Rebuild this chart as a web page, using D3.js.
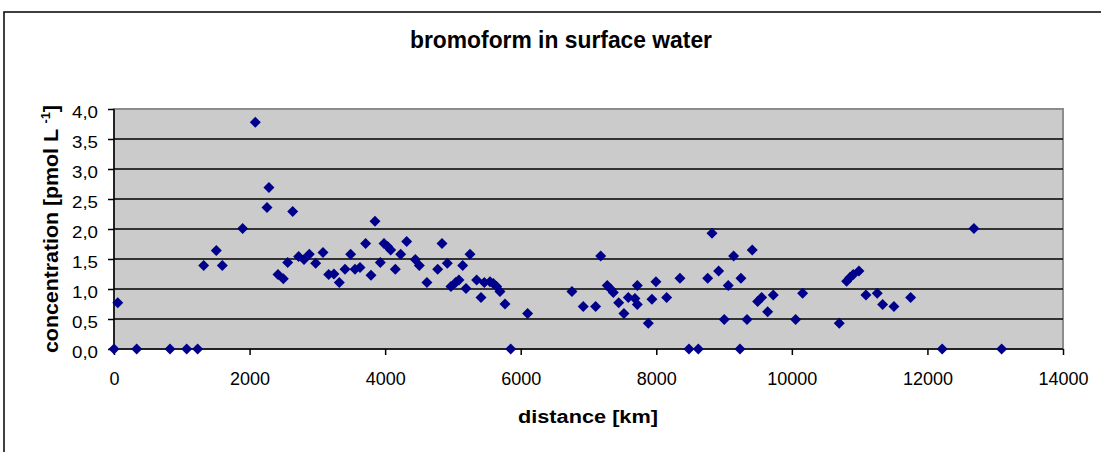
<!DOCTYPE html>
<html><head><meta charset="utf-8">
<script src="https://cdn.jsdelivr.net/npm/d3@7"></script>
<style>body{margin:0;background:#fff}svg{display:block}</style>
</head><body><svg id="c" width="1101" height="452"></svg>
<script>
const distance = [0,55,335,826,1072,1234,1323,1509,1598,1898,2085,2286,2257,2636,2419,2498,2562,2724,2803,2881,2975,3083,3167,3245,3324,3408,3491,3555,3629,3712,3791,3850,3929,3983,4037,4082,4150,4229,4318,4445,4504,4617,4775,4839,4917,4971,5040,5089,5144,5193,5252,5350,5414,5463,5547,5596,5645,5694,5768,5852,6102,6756,6923,7105,7180,7277,7326,7366,7445,7523,7587,7685,7720,7720,7882,7936,7995,8153,8349,8482,8620,8758,8822,8920,9062,9003,9141,9249,9234,9338,9416,9495,9554,9643,9726,10056,10159,10699,10808,10857,10906,10990,11093,11260,11339,11506,11752,12218,12686,13095];
const concentration = [0,0.77,0,0,0,0,1.39,1.64,1.39,2.01,3.78,2.69,2.36,2.29,1.24,1.17,1.44,1.54,1.49,1.58,1.43,1.61,1.24,1.25,1.11,1.33,1.58,1.33,1.36,1.76,1.23,2.13,1.44,1.76,1.71,1.65,1.33,1.58,1.79,1.49,1.39,1.11,1.33,1.76,1.43,1.04,1.11,1.15,1.39,1.01,1.58,1.15,0.86,1.11,1.12,1.09,1.04,0.96,0.75,0,0.59,0.96,0.71,0.71,1.55,1.06,1.00,0.94,0.77,0.59,0.86,0.84,1.06,0.74,0.43,0.83,1.12,0.86,1.18,0,0,1.18,1.93,1.30,1.06,0.49,1.55,1.18,0,0.49,1.65,0.79,0.86,0.62,0.90,0.49,0.93,0.43,1.13,1.19,1.24,1.30,0.90,0.93,0.74,0.71,0.86,0,2.01,0];
const xTicks = [0,2000,4000,6000,8000,10000,12000,14000];
const yTicks = [0,0.5,1.0,1.5,2.0,2.5,3.0,3.5,4.0];
const title = "bromoform in surface water";
const xTitle = "distance [km]";

const FONT = "Liberation Sans, Arial, sans-serif";
const svg = d3.select("#c");
const L=114, R=1063, T=109, B=349;
const x = d3.scaleLinear().domain([0,14000]).range([L,R]);
const y = d3.scaleLinear().domain([0,4]).range([B,T]);
const fmt = v => d3.format(".1f")(v).replace(".", ",");

// outer frame
svg.append("rect").attr("x",4).attr("y",12).attr("width",1200).attr("height",600)
  .attr("fill","none").attr("stroke","#000").attr("stroke-width",1.5);

// plot area
svg.append("rect").attr("x",L).attr("y",T).attr("width",R-L).attr("height",B-T)
  .attr("fill","#cbcbcb").attr("stroke","#8c8c8c").attr("stroke-width",2);

// gridlines
svg.append("g").selectAll("line").data(yTicks.filter(v=>v>0 && v<4)).join("line")
  .attr("x1",L).attr("x2",R).attr("y1",d=>y(d)).attr("y2",d=>y(d))
  .attr("stroke","#000").attr("stroke-width",1.5);

// y axis
const ya = svg.append("g").attr("transform",`translate(${L},0)`)
  .call(d3.axisLeft(y).tickValues(yTicks).tickFormat(fmt).tickSize(6).tickPadding(10));
ya.selectAll("path,line").attr("stroke","#000").attr("stroke-width",1.5);
ya.select(".domain").attr("d",`M0,${T}V${B}`);
ya.selectAll("text").attr("font-family",FONT).attr("font-size",16).attr("fill","#000")
  .attr("dy","0.52em").attr("textLength",26).attr("lengthAdjust","spacingAndGlyphs");

// x axis
const xa = svg.append("g").attr("transform",`translate(0,${B})`)
  .call(d3.axisBottom(x).tickValues(xTicks).tickFormat(d3.format("d")).tickSize(6).tickPadding(17));
xa.selectAll("path,line").attr("stroke","#000").attr("stroke-width",1.5);
xa.select(".domain").attr("d",`M${L},0H${R}`);
xa.selectAll("text").attr("font-family",FONT).attr("font-size",18).attr("fill","#000");

// points
const diamond = "M0,-5.5L5.5,0L0,5.5L-5.5,0Z";
svg.append("g").selectAll("path").data(distance.map((d,i)=>[d,concentration[i]])).join("path")
  .attr("d",diamond).attr("transform",d=>`translate(${x(d[0])},${y(d[1])})`)
  .attr("fill","#00008b");

// titles
svg.append("text").attr("x",561).attr("y",48).attr("text-anchor","middle")
  .attr("font-family",FONT).attr("font-weight","bold").attr("font-size",24)
  .attr("textLength",302).attr("lengthAdjust","spacingAndGlyphs")
  .text(title);
svg.append("text").attr("x",588).attr("y",423).attr("text-anchor","middle")
  .attr("font-family",FONT).attr("font-weight","bold").attr("font-size",18)
  .attr("textLength",140).attr("lengthAdjust","spacingAndGlyphs")
  .text(xTitle);
const yt = svg.append("text").attr("transform","translate(58,229) rotate(-90)").attr("text-anchor","middle")
  .attr("font-family",FONT).attr("font-weight","bold").attr("font-size",20)
  .attr("textLength",248).attr("lengthAdjust","spacingAndGlyphs");
yt.append("tspan").text("concentration [pmol L ");
yt.append("tspan").attr("font-size",12).attr("dy",-8).text("-1");
yt.append("tspan").attr("dy",8).text("]");
</script></body></html>
